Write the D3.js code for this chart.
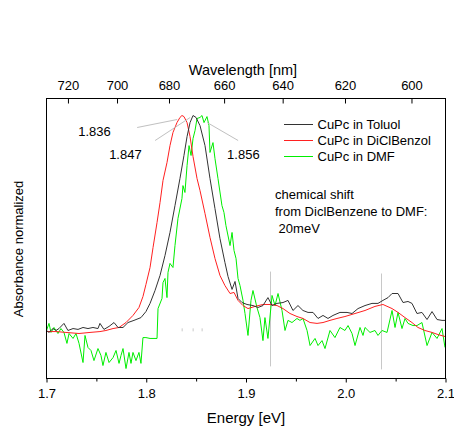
<!DOCTYPE html>
<html>
<head>
<meta charset="utf-8">
<script src="https://cdn.jsdelivr.net/npm/d3@7"></script>
<style>
  body { margin: 0; background: #fff; }
  svg { display: block; }
  text { font-family: "Liberation Sans", Arial, sans-serif; fill: #000; }
</style>
</head>
<body>
<div id="chart"></div>
<script>
// axis ticks
var energyTicks = [1.7, 1.8, 1.9, 2.0, 2.1];
var energyMinorTicks = [1.75, 1.85, 1.95, 2.05];
var wavelengthTicks = [720, 700, 680, 660, 640, 620, 600];

var seriesNames = ['CuPc in Toluol', 'CuPc in DiClBenzol', 'CuPc in DMF'];
var seriesColors = ['#333333', '#ff2020', '#00ee00'];

// [energy eV, normalized absorbance]
var toluol = [
  [1.700,0],[1.7025,-0.009],[1.7065,0.009],[1.7095,0],[1.7125,0.009],[1.7175,0.033],[1.7215,0],
  [1.7266,0.009],[1.7316,0.005],[1.7366,0.014],[1.7416,0.009],[1.7466,0.014],[1.7516,0.009],
  [1.7536,0.033],[1.7576,0.005],[1.7627,0.019],[1.7677,0.037],[1.7717,0.014],[1.7767,0.014],
  [1.7817,0.037],[1.7877,0.047],[1.7947,0.060],[1.7997,0.088],[1.8038,0.126],[1.8088,0.186],
  [1.8138,0.256],[1.8188,0.349],[1.8238,0.456],[1.8288,0.581],[1.8338,0.707],[1.8378,0.814],
  [1.8409,0.902],[1.8439,0.967],[1.8469,1.000],[1.8499,0.991],[1.8539,0.953],[1.8589,0.860],
  [1.8639,0.707],[1.8689,0.567],[1.8739,0.428],[1.8789,0.316],[1.8820,0.251],[1.8860,0.191],
  [1.8890,0.228],[1.8920,0.149],[1.8960,0.130],[1.9010,0.121],[1.9070,0.116],[1.9120,0.107],
  [1.9170,0.116],[1.9220,0.153],[1.9261,0.116],[1.9311,0.126],[1.9371,0.130],[1.9421,0.140],
  [1.9471,0.093],[1.9521,0.116],[1.9571,0.093],[1.9622,0.084],[1.9672,0.084],[1.9722,0.056],
  [1.9772,0.070],[1.9822,0.056],[1.9872,0.070],[1.9942,0.084],[2.0013,0.084],[2.0063,0.079],
  [2.0123,0.102],[2.0193,0.116],[2.0263,0.126],[2.0323,0.126],[2.0373,0.140],[2.0424,0.153],
  [2.0464,0.172],[2.0524,0.172],[2.0574,0.130],[2.0624,0.135],[2.0664,0.126],[2.0714,0.079],
  [2.0764,0.084],[2.0815,0.051],[2.0865,0.088],[2.0915,0.051],[2.0965,0.047],[2.0995,0.047]
];

var diclbenzol = [
  [1.700,-0.005],[1.7095,-0.005],[1.7195,-0.009],[1.7326,-0.014],[1.7436,-0.009],[1.7536,-0.005],
  [1.7596,0],[1.7667,0.009],[1.7727,0.014],[1.7797,0.037],[1.7867,0.070],[1.7927,0.107],
  [1.7967,0.158],[1.7997,0.214],[1.8038,0.293],[1.8068,0.386],[1.8108,0.502],[1.8138,0.595],
  [1.8168,0.698],[1.8208,0.781],[1.8238,0.860],[1.8268,0.921],[1.8308,0.967],[1.8338,0.991],
  [1.8358,1.000],[1.8378,0.995],[1.8409,0.967],[1.8439,0.902],[1.8469,0.809],[1.8509,0.707],
  [1.8539,0.651],[1.8589,0.544],[1.8639,0.433],[1.8689,0.335],[1.8739,0.256],[1.8789,0.209],
  [1.8840,0.172],[1.8880,0.177],[1.8920,0.140],[1.8970,0.116],[1.9020,0.102],[1.9090,0.112],
  [1.9170,0.121],[1.9241,0.121],[1.9311,0.116],[1.9371,0.102],[1.9441,0.079],[1.9511,0.065],
  [1.9571,0.056],[1.9642,0.037],[1.9712,0.033],[1.9772,0.037],[1.9842,0.047],[1.9912,0.056],
  [1.9992,0.065],[2.0093,0.079],[2.0193,0.093],[2.0293,0.112],[2.0373,0.121],[2.0464,0.102],
  [2.0524,0.084],[2.0594,0.060],[2.0664,0.037],[2.0724,0.014],[2.0794,0],[2.0865,-0.009],
  [2.0925,-0.019],[2.0995,-0.028]
];

var dmf = [
  [1.700,0],[1.7025,0.033],[1.7045,-0.009],[1.7075,0.014],[1.7115,-0.014],[1.7145,0.009],
  [1.7175,-0.009],[1.7205,-0.060],[1.7226,-0.014],[1.7266,-0.037],[1.7296,-0.014],[1.7326,-0.060],
  [1.7366,-0.149],[1.7386,-0.023],[1.7416,-0.079],[1.7446,-0.093],[1.7476,-0.140],[1.7516,-0.084],
  [1.7546,-0.116],[1.7566,-0.163],[1.7596,-0.102],[1.7627,-0.149],[1.7667,-0.126],[1.7697,-0.093],
  [1.7727,-0.153],[1.7747,-0.116],[1.7767,-0.084],[1.7797,-0.177],[1.7827,-0.102],[1.7847,-0.153],
  [1.7867,-0.102],[1.7897,-0.140],[1.7927,-0.102],[1.7947,-0.153],[1.7967,-0.033],[1.7997,-0.033],
  [1.8038,-0.037],[1.8108,-0.037],[1.8118,0.102],[1.8158,0.149],[1.8168,0.223],[1.8188,0.242],
  [1.8208,0.153],[1.8218,0.270],[1.8238,0.312],[1.8268,0.293],[1.8288,0.395],[1.8318,0.521],
  [1.8358,0.614],[1.8368,0.674],[1.8388,0.642],[1.8409,0.767],[1.8429,0.860],[1.8449,0.814],
  [1.8469,0.893],[1.8489,0.930],[1.8509,0.986],[1.8539,0.991],[1.8559,1.000],[1.8579,0.967],
  [1.8609,0.995],[1.8629,0.953],[1.8639,0.828],[1.8669,0.874],[1.8689,0.800],[1.8719,0.707],
  [1.8759,0.581],[1.8779,0.549],[1.8799,0.488],[1.8840,0.395],[1.8860,0.456],[1.8880,0.372],
  [1.8900,0.335],[1.8920,0.242],[1.8940,0.209],[1.8970,0.140],[1.8990,0.079],[1.9020,-0.023],
  [1.9050,0.140],[1.9070,0.186],[1.9110,0.107],[1.9140,0.060],[1.9170,-0.047],[1.9190,0.060],
  [1.9220,-0.037],[1.9261,0.163],[1.9291,0.116],[1.9321,0.172],[1.9361,0.093],[1.9391,0],
  [1.9421,0.047],[1.9461,0.037],[1.9511,0.056],[1.9541,0.047],[1.9571,0.056],[1.9612,0],
  [1.9642,-0.070],[1.9692,-0.037],[1.9722,-0.070],[1.9762,-0.047],[1.9792,-0.084],[1.9842,0],
  [1.9892,-0.033],[1.9942,0.014],[1.9992,0],[2.0023,0.023],[2.0063,-0.014],[2.0093,-0.070],
  [2.0143,0.014],[2.0173,-0.023],[2.0193,0.014],[2.0243,-0.009],[2.0293,0],[2.0323,-0.023],
  [2.0363,0],[2.0414,-0.009],[2.0464,0.093],[2.0494,0.014],[2.0524,0.084],[2.0564,0.009],
  [2.0594,0.056],[2.0624,0.033],[2.0674,0.023],[2.0714,0.023],[2.0764,0.037],[2.0815,-0.070],
  [2.0865,-0.009],[2.0915,-0.037],[2.0965,0.009],[2.0995,-0.079]
];

// peak positions (eV) with their labels
var peakEnergies = [1.836, 1.847, 1.856];
var peakLabels = ['1.836', '1.847', '1.856'];
// gray marker lines [energy, from, to]
var markerLines = [[1.924, 0.274, -0.167], [2.035, 0.265, -0.181]];

var noteLines = ['chemical shift', 'from DiclBenzene to DMF:', ' 20meV'];

var width = 454, height = 426;
var mLeft = 46.5, mRight = 445.5, mTop = 98.5, mBottom = 378.5;
var hc = 1239.84;

var svg = d3.select('#chart').append('svg')
    .attr('width', width)
    .attr('height', height);

var x = d3.scaleLinear().domain([1.7, 2.1]).range([mLeft, mRight]);
var y = d3.scaleLinear().domain([-0.2233, 1.0791]).range([mBottom, mTop]);

var plot = svg.append('g');

// gray marker lines
plot.selectAll('line.marker')
  .data(markerLines)
  .enter().append('line')
  .attr('class', 'marker')
  .attr('x1', function(d) { return Math.round(x(d[0])) + 0.5; })
  .attr('x2', function(d) { return Math.round(x(d[0])) + 0.5; })
  .attr('y1', function(d) { return y(d[1]); })
  .attr('y2', function(d) { return y(d[2]); })
  .attr('stroke', '#c8c8c8')
  .attr('stroke-width', 1);

// tiny marks at peak energies near baseline
plot.selectAll('line.pmark')
  .data(peakEnergies)
  .enter().append('line')
  .attr('class', 'pmark')
  .attr('x1', function(d) { return x(d); })
  .attr('x2', function(d) { return x(d); })
  .attr('y1', y(-0.004))
  .attr('y2', y(0.01))
  .attr('stroke', '#c8c8c8');

var line = d3.line()
  .x(function(d) { return x(d[0]); })
  .y(function(d) { return y(d[1]); });

var allSeries = [toluol, diclbenzol, dmf];
[2, 1, 0].forEach(function(i) {
  plot.append('path')
    .datum(allSeries[i])
    .attr('d', line)
    .attr('fill', 'none')
    .attr('stroke', seriesColors[i])
    .attr('stroke-width', 1);
});

// frame
svg.append('rect')
  .attr('x', mLeft).attr('y', mTop)
  .attr('width', mRight - mLeft).attr('height', mBottom - mTop)
  .attr('fill', 'none')
  .attr('stroke', '#000')
  .attr('stroke-width', 1);

// bottom axis
var xAxis = d3.axisBottom(x)
  .tickValues(energyTicks)
  .tickFormat(d3.format('.1f'))
  .tickSize(4)
  .tickPadding(6);
var gx = svg.append('g')
  .attr('transform', 'translate(0,' + mBottom + ')')
  .call(xAxis);
gx.select('.domain').remove();
gx.selectAll('text').style('font-size', '13px').style('font-family', '"Liberation Sans", Arial, sans-serif');

var gxm = svg.append('g')
  .attr('transform', 'translate(0,' + mBottom + ')')
  .call(d3.axisBottom(x).tickValues(energyMinorTicks).tickSize(3).tickFormat(''));
gxm.select('.domain').remove();

svg.append('text')
  .attr('x', (mLeft + mRight) / 2)
  .attr('y', 422.5)
  .attr('text-anchor', 'middle')
  .style('font-size', '15px')
  .text('Energy [eV]');

// top wavelength axis
var gt = svg.append('g');
gt.selectAll('line')
  .data(wavelengthTicks)
  .enter().append('line')
  .attr('x1', function(d) { return x(hc / d); })
  .attr('x2', function(d) { return x(hc / d); })
  .attr('y1', mTop)
  .attr('y2', mTop + 5)
  .attr('stroke', '#000');
gt.selectAll('text')
  .data(wavelengthTicks)
  .enter().append('text')
  .attr('x', function(d) { return x(hc / d); })
  .attr('y', 90)
  .attr('text-anchor', 'middle')
  .style('font-size', '13px')
  .text(function(d) { return d; });

svg.append('text')
  .attr('x', (mLeft + mRight) / 2 - 3)
  .attr('y', 75)
  .attr('text-anchor', 'middle')
  .style('font-size', '14.5px')
  .text('Wavelength [nm]');

// y label
svg.append('text')
  .attr('transform', 'translate(22.5,249) rotate(-90)')
  .attr('text-anchor', 'middle')
  .style('font-size', '13px')
  .text('Absorbance normalized');

// peak annotations: offsets relative to the peak point
var labelOffsets = [[-104, 20], [-84, 43], [25, 43]];
var leaderOffsets = [[-45, 12, -5, 4], [-38, 25, -3, 2], [36, 25, 5, 7]];

peakEnergies.forEach(function(e, i) {
  var px = x(e), py = y(1);
  svg.append('line')
    .attr('x1', px + leaderOffsets[i][0]).attr('y1', py + leaderOffsets[i][1])
    .attr('x2', px + leaderOffsets[i][2]).attr('y2', py + leaderOffsets[i][3])
    .attr('stroke', '#c0c0c0');
  svg.append('text')
    .attr('x', px + labelOffsets[i][0])
    .attr('y', py + labelOffsets[i][1])
    .style('font-size', '13px')
    .text(peakLabels[i]);
});

// legend
var legend = svg.append('g').attr('transform', 'translate(284,124)');
seriesNames.forEach(function(name, i) {
  var row = legend.append('g').attr('transform', 'translate(0,' + (i * 16) + ')');
  row.append('line')
    .attr('x1', 0).attr('x2', 29)
    .attr('y1', 0.5).attr('y2', 0.5)
    .attr('stroke', seriesColors[i]);
  row.append('text')
    .attr('x', 33.5)
    .attr('y', 5)
    .style('font-size', '13px')
    .text(name);
});

// note text
svg.append('g').selectAll('text')
  .data(noteLines)
  .enter().append('text')
  .attr('x', 275)
  .attr('y', function(d, i) { return 199 + i * 16.8; })
  .style('font-size', '13px')
  .style('white-space', 'pre')
  .text(function(d) { return d; });
</script>
</body>
</html>
